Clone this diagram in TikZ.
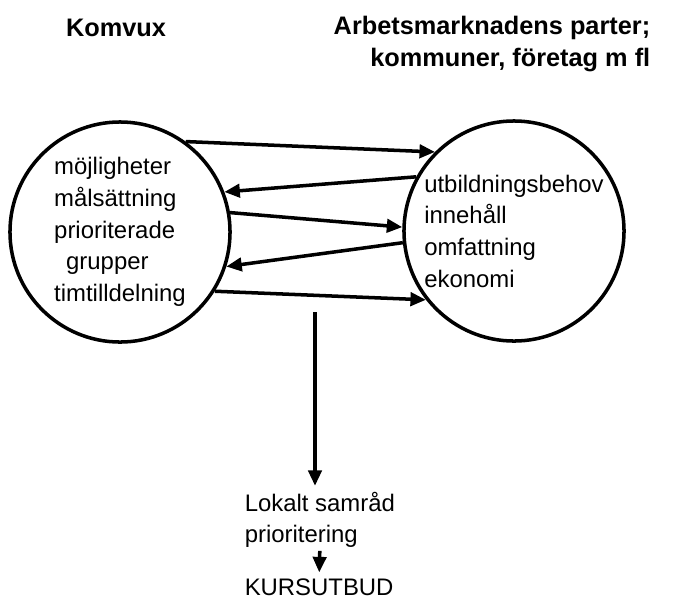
\documentclass[tikz,border=0pt]{standalone}
\usepackage{fontspec}
\setmainfont{Liberation Sans}
\usetikzlibrary{arrows.meta}

\begin{document}
\begin{tikzpicture}[x=0.025cm,y=-0.025cm,line width=2.5pt,
    >={Triangle[length=11pt,width=9.5pt]},
    every node/.style={inner sep=0pt,font=\fontsize{17}{22.5}\selectfont}]
    \useasboundingbox (0,0) rectangle (677,600);

    \begin{scope}[every node/.style={inner sep=0pt,font=\fontsize{18}{23}\selectfont\bfseries}]
        \node (komvux) at (116,28) {Komvux};
        \node[align=right,anchor=east] (parter) at (652,44) {Arbetsmarknadens parter;\\kommuner, företag m fl};
    \end{scope}

    \begin{scope}[every node/.style={circle,draw,minimum size=5.5cm,inner sep=0pt,align=left,font=\fontsize{17}{22.5}\selectfont}]
        \node (K) at (120,232) {möjligheter\\målsättning\\prioriterade\\\hspace*{0.5em}grupper\\timtilldelning};
        \node (A) at (514,231) {utbildningsbehov\\innehåll\\omfattning\\ekonomi};
    \end{scope}

    \begin{scope}[every path/.style={->}]
        \path (K.54) edge (A.135);
        \path (A.151) edge (K.21);
        \path (K.10) edge (A.178);
        \path (A.-174) edge (K.-18);
        \path (K.-32) edge (A.-142);
    \end{scope}

    \coordinate (drop) at (315,312);
    \node[align=left,anchor=north west] (samrad) at (243,490) {Lokalt samråd\\prioritering};
    \node[anchor=base west] (kurs) at (243,595) {KURSUTBUD};
    \draw[->,shorten >=3pt] (drop) -- (drop |- samrad.north);
    \draw[->,shorten <=1pt,shorten >=3pt] (samrad.south) -- (kurs.north);
\end{tikzpicture}
\end{document}
